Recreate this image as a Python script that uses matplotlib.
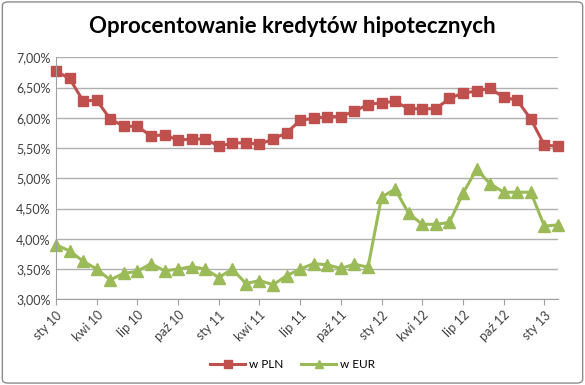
import matplotlib; matplotlib.use("Agg")
import matplotlib.pyplot as plt
from matplotlib.patches import FancyBboxPatch
from matplotlib.ticker import FuncFormatter

# miesiace sty 10 .. mar 13
MIES = ["sty", "lut", "mar", "kwi", "maj", "cze", "lip", "sie", "wrz", "paź", "lis", "gru"]
miesiace = [f"{MIES[i % 12]} {10 + i // 12}" for i in range(38)]

pln = [6.77, 6.65, 6.28, 6.29, 5.98, 5.86, 5.86, 5.70, 5.72, 5.63, 5.65, 5.65,
       5.53, 5.58, 5.59, 5.56, 5.65, 5.75, 5.96, 5.99, 6.02, 6.02, 6.11, 6.22,
       6.25, 6.27, 6.15, 6.15, 6.15, 6.32, 6.41, 6.44, 6.49, 6.34, 6.29, 5.98,
       5.55, 5.53]
eur = [3.90, 3.80, 3.63, 3.50, 3.32, 3.43, 3.46, 3.59, 3.47, 3.50, 3.54, 3.50,
       3.36, 3.50, 3.26, 3.31, 3.24, 3.39, 3.50, 3.59, 3.57, 3.51, 3.58, 3.53,
       4.69, 4.82, 4.42, 4.24, 4.24, 4.27, 4.75, 5.15, 4.91, 4.77, 4.77, 4.77,
       4.21, 4.23]

RED = "#C0504D"; GREEN = "#9BBB59"
plt.rcParams['font.family'] = ['Lato', 'DejaVu Sans']

fig = plt.figure(figsize=(5.85, 3.85), dpi=100)
fig.patches.append(FancyBboxPatch((0.004, 0.005), 0.992, 0.99, boxstyle="round,pad=0,rounding_size=0.01",
                                  transform=fig.transFigure, fc="none", ec="#8c8c8c", lw=1.0, zorder=-1))
ax = fig.add_axes([0.0957, 0.2226, 0.858, 0.6285])
ax.patch.set_alpha(0)
x = list(range(len(miesiace)))
ax.plot(x, pln, color=RED, lw=2.2, marker="s", ms=7, mec=RED, label="w PLN", clip_on=False)
ax.plot(x, eur, color=GREEN, lw=2.2, marker="^", ms=8, mec=GREEN, label="w EUR", clip_on=False)

ax.set_xlim(0, len(miesiace) - 1)
ax.set_ylim(3.0, 7.0)
ax.set_yticks([3.0 + 0.5 * i for i in range(9)])
ax.yaxis.set_major_formatter(FuncFormatter(lambda v, p: f"{v:.2f}%".replace(".", ",")))
ax.set_xticks(x[::3])
ax.set_xticklabels(miesiace[::3], rotation=45, ha="right", rotation_mode="anchor", fontsize=9)
ax.tick_params(axis="y", length=0, labelsize=9, pad=4, colors="#404040")
ax.tick_params(axis="x", length=4, color="#a0a0a0", labelsize=9, labelcolor="#404040", pad=3)
ax.grid(axis="y", color="#b0b0b0", lw=1.0)
ax.set_axisbelow(True)
for s in ["top", "right"]:
    ax.spines[s].set_visible(False)
for s in ["left", "bottom"]:
    ax.spines[s].set_color("#a0a0a0")

fig.text(0.5, 0.93, "Oprocentowanie kredytów hipotecznych", ha="center", va="center",
         fontsize=16, fontweight="bold", color="black")
leg = fig.legend(loc="center", bbox_to_anchor=(0.5, 0.052), ncol=2, frameon=False,
                 fontsize=8.5, handlelength=3, columnspacing=1.5, handletextpad=0.3, markerscale=0.8)
fig.savefig("out.png", dpi=100)
